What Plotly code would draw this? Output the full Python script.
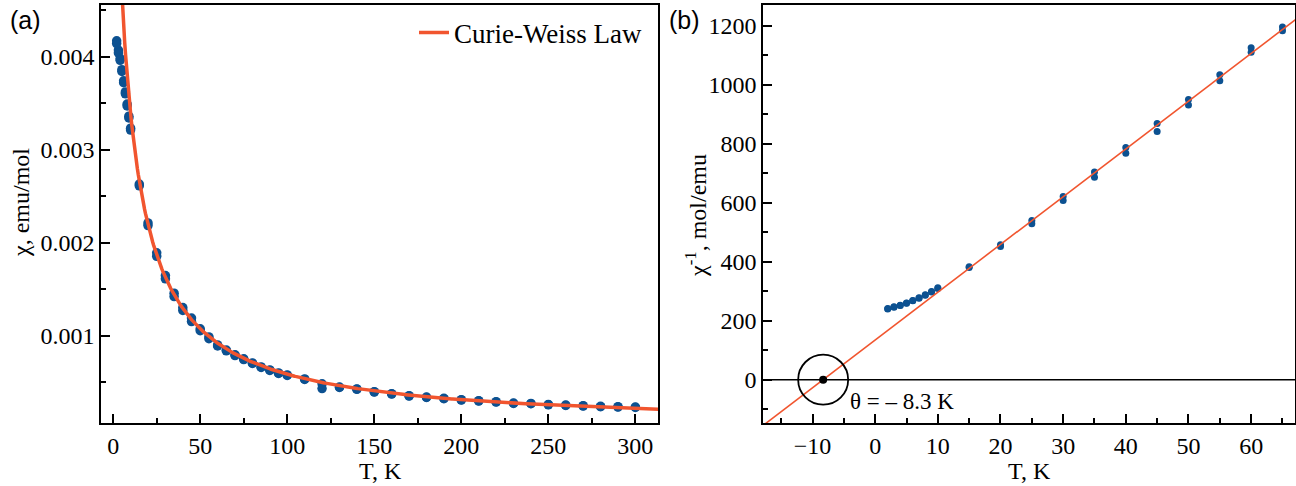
import numpy as np
import plotly.graph_objects as go

# Temperatures (K) and two susceptibility runs (emu/mol)
T_K = [2, 3, 4, 5, 6, 7, 8, 9, 10, 15, 20, 25, 30, 35, 40, 45, 50, 55, 60, 65,
       70, 75, 80, 85, 90, 95, 100, 110, 120, 130, 140, 150, 160, 170, 180, 190,
       200, 210, 220, 230, 240, 250, 260, 270, 280, 290, 300]

chi_run1 = [0.00417, 0.00407, 0.00398, 0.00386, 0.00374, 0.00362, 0.00349, 0.00336, 0.00323,
            0.00263, 0.002212, 0.001890, 0.001645, 0.001456, 0.001302, 0.001188, 0.001073,
            0.000986, 0.000900, 0.000845, 0.000793, 0.000750, 0.000706, 0.000663, 0.000631,
            0.000599, 0.000577, 0.000534, 0.000481, 0.000447, 0.000426, 0.000397, 0.000375,
            0.000354, 0.000339, 0.000325, 0.000311, 0.000300, 0.000289, 0.000275, 0.000271,
            0.000260, 0.000253, 0.000246, 0.000239, 0.000235, 0.000232]

chi_run2 = [0.00414, 0.00404, 0.00396, 0.00384, 0.00372, 0.00360, 0.00347, 0.00334, 0.00321,
            0.00261, 0.002183, 0.001852, 0.001610, 0.001420, 0.001270, 0.001151, 0.001052,
            0.000967, 0.000888, 0.000836, 0.000785, 0.000742, 0.000700, 0.000657, 0.000625,
            0.000593, 0.000571, 0.000528, 0.000430, 0.000443, 0.000422, 0.000393, 0.000371,
            0.000350, 0.000335, 0.000321, 0.000307, 0.000296, 0.000285, 0.000271, 0.000267,
            0.000256, 0.000249, 0.000242, 0.000235, 0.000231, 0.000228]

# Curie-Weiss fit parameters
C_curie = 0.0617      # emu K / mol
theta_K = -8.3        # K
chi_0 = 1.5e-5        # emu/mol

T_arr = np.array(T_K, dtype=float)
inv1 = 1.0 / np.array(chi_run1)
inv2 = 1.0 / np.array(chi_run2)

T_fit_a = np.linspace(4.0, 315.0, 600)
chi_fit = C_curie / (T_fit_a - theta_K) + chi_0
T_fit_b = np.linspace(-20.0, 70.0, 50)
inv_fit = (T_fit_b - theta_K) / C_curie

DOT = "#0c5191"
FIT = "#f1552f"
SERIF = "Liberation Serif, Times New Roman, serif"

fig = go.Figure()

# (a) susceptibility
for chi in (chi_run1, chi_run2):
    fig.add_trace(go.Scatter(x=T_K, y=chi, mode="markers", xaxis="x", yaxis="y",
                             marker=dict(size=9.5, color=DOT), showlegend=False))
fig.add_trace(go.Scatter(x=T_fit_a, y=chi_fit, mode="lines", xaxis="x", yaxis="y",
                         line=dict(color=FIT, width=3.5), name="Curie-Weiss Law"))

# (b) inverse susceptibility
mask = T_arr <= 66
for inv in (inv1, inv2):
    fig.add_trace(go.Scatter(x=T_arr[mask], y=inv[mask], mode="markers", xaxis="x2", yaxis="y2",
                             marker=dict(size=7, color=DOT), showlegend=False))
fig.add_trace(go.Scatter(x=T_fit_b, y=inv_fit, mode="lines", xaxis="x2", yaxis="y2",
                         line=dict(color=FIT, width=1.6), showlegend=False))
fig.add_trace(go.Scatter(x=[theta_K], y=[0], mode="markers", xaxis="x2", yaxis="y2",
                         marker=dict(size=8, color="black"), showlegend=False))

W, H = 1296, 486
ydom = [(H - 423) / H, (H - 5) / H]

axis_common = dict(showline=True, linecolor="black", linewidth=1.6, mirror=True,
                   ticks="inside", ticklen=9, tickwidth=1.5, tickcolor="black",
                   showgrid=False, zeroline=False, automargin=False,
                   tickfont=dict(family=SERIF, size=24, color="black"))
minor_common = dict(ticks="inside", ticklen=5, tickwidth=1.5, tickcolor="black", showgrid=False)

fig.update_layout(
    template="none",
    font=dict(family=SERIF, size=24, color="black"),
    width=W, height=H,
    margin=dict(l=0, r=0, t=0, b=0, autoexpand=False),
    paper_bgcolor="white", plot_bgcolor="white",
    xaxis=dict(domain=[101 / W, 658 / W], range=[-7, 313], dtick=50, tick0=0,
               minor=dict(dtick=25, **minor_common), anchor="y", **axis_common),
    yaxis=dict(domain=ydom, range=[0.00006, 0.004555], dtick=0.001, tick0=0,
               tickformat=".3f", minor=dict(dtick=0.0005, **minor_common),
               anchor="x", **axis_common),
    xaxis2=dict(domain=[763 / W, 1295 / W], range=[-17.9, 67.0], dtick=10, tick0=0,
                minor=dict(dtick=5, **minor_common), anchor="y2", **axis_common),
    yaxis2=dict(domain=ydom, range=[-147, 1271], dtick=200, tick0=0,
                minor=dict(dtick=100, **minor_common), anchor="x2", **axis_common),
    legend=dict(x=648 / W, y=1 - 33 / H, xanchor="right", yanchor="middle",
                bgcolor="rgba(0,0,0,0)", borderwidth=0,
                font=dict(family=SERIF, size=27, color="black")),
    showlegend=True,
)

# zero line of panel (b)
fig.add_shape(type="line", xref="x2", yref="y2", x0=-17.9, x1=67.0, y0=0, y1=0,
              line=dict(color="black", width=1.5), layer="below")
# circle marking the Weiss temperature
fig.add_shape(type="circle", xref="x2", yref="y2", xsizemode="pixel", ysizemode="pixel",
              xanchor=theta_K, yanchor=0, x0=-25, x1=25, y0=-25, y1=25,
              line=dict(color="black", width=1.8))

fig.add_annotation(xref="x2", yref="y2", x=-4.3, y=-73, xanchor="left", yanchor="middle",
                   text="θ = – 8.3 K", showarrow=False,
                   font=dict(family=SERIF, size=23, color="black"))

# axis titles
title_font = dict(family=SERIF, size=24, color="black")
for text, px, py, angle in (("T, K", 381, 471, 0), ("T, K", 1029, 471, 0),
                            ("χ, emu/mol", 21, 203, -90),
                            ("χ<sup>-1</sup>, mol/emu", 696, 216, -90)):
    fig.add_annotation(xref="paper", yref="paper", x=px / W, y=1 - py / H,
                       xanchor="center", yanchor="middle", text=text, textangle=angle,
                       showarrow=False, font=title_font)

for label, px in (("(a)", 8), ("(b)", 667)):
    fig.add_annotation(xref="paper", yref="paper", x=px / W, y=1 - 20 / H,
                       xanchor="left", yanchor="middle", text=label, showarrow=False,
                       font=dict(family="Liberation Sans", size=25, color="black"))

fig.write_html("out.html")
